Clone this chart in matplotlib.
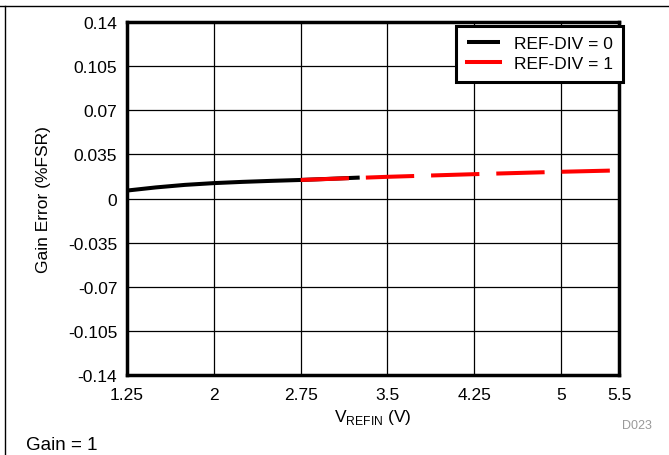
import numpy as np
import matplotlib
matplotlib.use('Agg')
import matplotlib.pyplot as plt

plt.rcParams['font.family'] = ['Liberation Sans', 'DejaVu Sans']

v_black = [1.25, 1.5, 1.75, 2.0, 2.25, 2.5, 2.75, 3.0, 3.26]
err_black = [0.0063, 0.0088, 0.0108, 0.0122, 0.0132, 0.0140, 0.0147, 0.0156, 0.0166]
v_red = [2.75, 3.5, 4.25, 5.0, 5.5]
err_red = [0.0147, 0.0172, 0.0193, 0.0212, 0.0223]
xticks = [1.25, 2, 2.75, 3.5, 4.25, 5, 5.5]
xticklabels = ['1.25', '2', '2.75', '3.5', '4.25', '5', '5.5']
yticks = [-0.14, -0.105, -0.07, -0.035, 0, 0.035, 0.07, 0.105, 0.14]
yticklabels = ['-0.14', '-0.105', '-0.07', '-0.035', '0', '0.035', '0.07', '0.105', '0.14']

fig = plt.figure(figsize=(6.69, 4.56), dpi=100)
ax = fig.add_axes([127/669, 1-376/456, (619-127)/669, (376-23)/456])

ax.plot(v_black, err_black, color='black', lw=2.9, label='REF-DIV = 0', zorder=3,
        solid_capstyle='butt')
ax.plot(v_red, err_red, color='#ff0000', lw=2.9, label='REF-DIV = 1', zorder=4,
        dashes=(12, 4.2), dash_capstyle='butt')

ax.set_xlim(1.25, 5.5)
ax.set_ylim(-0.14, 0.14)
ax.set_xticks(xticks)
ax.set_xticklabels(xticklabels)
ax.set_yticks(yticks)
ax.set_yticklabels(yticklabels)
ax.tick_params(length=0, labelsize=12.5)
ax.tick_params(axis='y', pad=7)
ax.tick_params(axis='x', pad=9)
ax.grid(True, color='black', lw=0.9)
for s in ax.spines.values():
    s.set_linewidth(2.5)

ax.set_ylabel('Gain Error (%FSR)', fontsize=12.5, labelpad=12)
ax.set_xlabel(r'V$_{\mathregular{REFIN}}$ (V)', fontsize=12.5, labelpad=3)

leg = ax.legend(loc='upper right', bbox_to_anchor=(1.008, 0.99), fontsize=12.5,
                fancybox=False, framealpha=1, edgecolor='black',
                handlelength=1.9, borderpad=0.6, labelspacing=0.3, handletextpad=0.8,
                borderaxespad=0)
leg.get_frame().set_linewidth(2.2)
for h in leg.get_lines():
    h.set_linestyle('-')

fig.text(652/669, 1-426/456, 'D023', color='#999999', fontsize=9, ha='right', va='center')
fig.text(26/669, 1-446/456, 'Gain = 1', fontsize=13.5, ha='left', va='center')

fig.add_artist(plt.Line2D([0, 1], [1-7/456, 1-7/456], color='black', lw=1))
fig.add_artist(plt.Line2D([5/669, 5/669], [0, 1-7/456], color='black', lw=1))

fig.savefig('out.png', dpi=100)
